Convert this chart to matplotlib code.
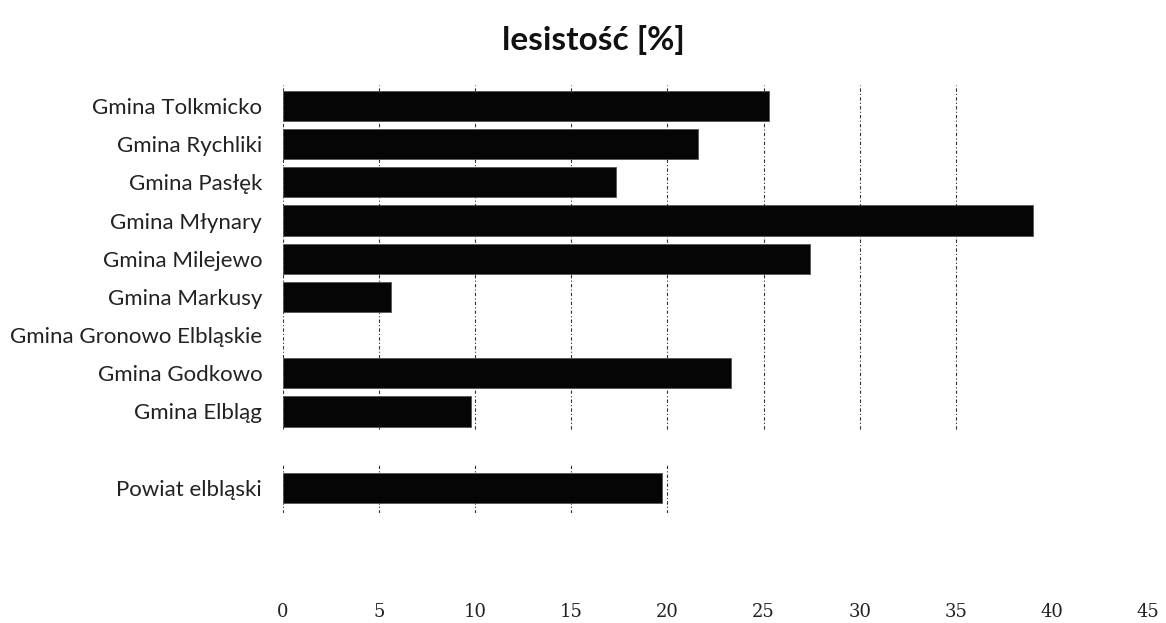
import matplotlib
matplotlib.use("Agg")
import matplotlib.pyplot as plt
import numpy as np

categories = ["Powiat elbląski", "", "Gmina Elbląg", "Gmina Godkowo",
              "Gmina Gronowo Elbląskie", "Gmina Markusy", "Gmina Milejewo",
              "Gmina Młynary", "Gmina Pasłęk", "Gmina Rychliki", "Gmina Tolkmicko"]
values = [19.7, np.nan, 9.8, 23.3, 0.0, 5.6, 27.4, 39.0, 17.3, 21.6, 25.3]
xticks = [0, 5, 10, 15, 20, 25, 30, 35, 40, 45]
title = "lesistość [%]"

W, H = 1166, 623
fig = plt.figure(figsize=(W / 100, H / 100), dpi=100)
ax = fig.add_axes([283 / W, 1 - 513 / H, (1148 - 283) / W, (513 - 85) / H])

y = np.arange(len(categories))
vals = np.array(values, dtype=float)
mask = ~np.isnan(vals) & (vals > 0)
ax.barh(y[mask], vals[mask], height=0.79, color="#050505", edgecolor="#555555",
        linewidth=0.6, zorder=3)

ax.set_xlim(0, 45)
ax.set_ylim(-0.66, 10.55)
ax.set_xticks(xticks)
ax.set_xticklabels([str(t) for t in xticks], family="DejaVu Serif", fontsize=13,
                   color="#222222")
ax.tick_params(axis="x", length=0, pad=65)
ax.set_yticks(y)
ax.set_yticklabels(categories, family="Lato", fontsize=16, color="#222222")
ax.tick_params(axis="y", length=0, pad=15)

for s in ax.spines.values():
    s.set_visible(False)

# gridlines (scanned look: upper block to 35, lower block to 20)
upper_lo, upper_hi = 1.55, 10.55
lower_lo, lower_hi = -0.66, 0.65
for t in xticks:
    if t <= 35:
        ax.vlines(t, upper_lo, upper_hi, colors="#333333", linestyles=(0, (3, 2, 1, 2)),
                  linewidth=0.8, zorder=1)
    if t <= 20:
        ax.vlines(t, lower_lo, lower_hi, colors="#333333", linestyles=(0, (3, 2, 1, 2)),
                  linewidth=0.8, zorder=1)

fig.text(593 / W, 1 - 40 / H, title, ha="center", va="center", family="Lato",
         fontweight="bold", fontsize=24, color="#111111")

fig.savefig("out.png", dpi=100, facecolor="white")
